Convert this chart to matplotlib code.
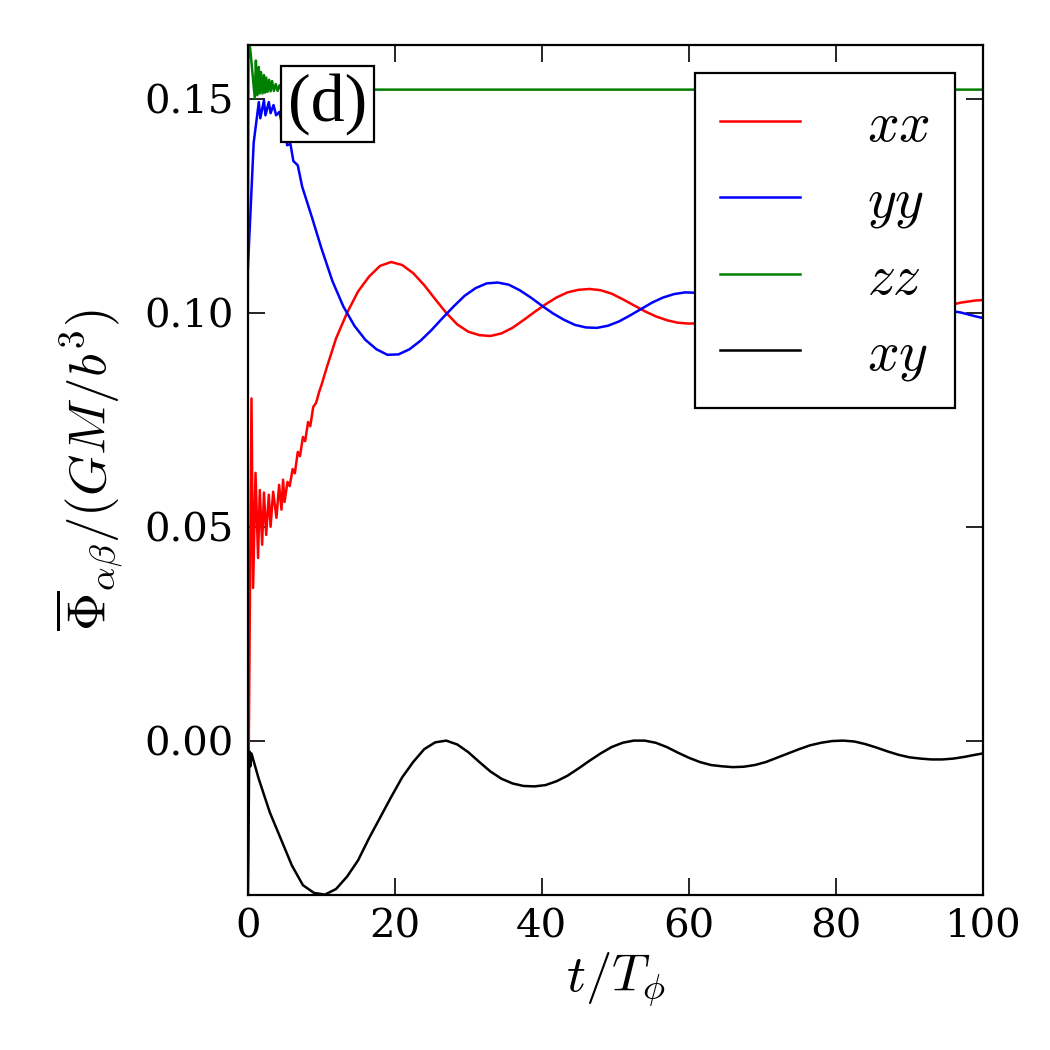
import matplotlib
matplotlib.use('Agg')
import matplotlib.pyplot as plt
import numpy as np

plt.rc('font', family='serif')
plt.rcParams['font.serif'] = ['DejaVu Serif']
plt.rcParams['mathtext.fontset'] = 'cm'

# values (t in units of T_phi)
t_xx = [0.0, 0.5, 0.72, 1.05, 1.4, 1.63, 1.95, 2.2, 2.5, 2.86, 3.1, 3.45, 3.9, 4.26, 4.58,
        4.8, 5.0, 5.4, 5.7, 6.1, 6.4, 6.8, 7.1, 7.5, 7.8, 8.2, 8.5, 8.9, 9.3, 9.7, 10.0,
        10.7, 12, 13.5, 15, 16.5, 18, 19.5, 21, 22.5, 24, 25.5, 27, 28.5, 30, 31.5, 33, 34.5,
        36, 37.5, 39, 40.5, 42, 43.5, 45, 46.5, 48, 49.5, 51, 52.5, 54, 55.5, 57, 58.5, 60,
        61.5, 63, 65, 67, 69, 71, 73, 75, 77, 79, 81, 83, 85, 87, 89, 91, 93, 95, 97, 99, 100]
xx = [-0.031, 0.080, 0.0357, 0.0626, 0.0427, 0.0586, 0.0458, 0.058, 0.0481, 0.0575, 0.050,
      0.0582, 0.0521, 0.0598, 0.054, 0.061, 0.0558, 0.0605, 0.0595, 0.0635, 0.0625, 0.0675,
      0.0665, 0.0710, 0.0700, 0.0745, 0.0735, 0.0780, 0.0790, 0.0815, 0.0830, 0.0870, 0.094,
      0.1000, 0.1050, 0.1085, 0.1110, 0.1119, 0.1112, 0.1093, 0.1065, 0.1032, 0.1000, 0.0973,
      0.0956, 0.0948, 0.0946, 0.0952, 0.0965, 0.0983, 0.1002, 0.1020, 0.1036, 0.1048, 0.1054,
      0.1056, 0.1053, 0.1045, 0.1032, 0.1018, 0.1004, 0.0992, 0.0983, 0.0977, 0.0975, 0.0976,
      0.0980, 0.0988, 0.0998, 0.1008, 0.1017, 0.1023, 0.1026, 0.1025, 0.1019, 0.1010, 0.1001,
      0.0993, 0.0990, 0.0992, 0.0998, 0.1007, 0.1016, 0.1024, 0.1029, 0.1030]

t_yy = [0.0, 0.8, 1.5, 1.7, 2.2, 2.4, 2.86, 3.1, 3.5, 3.85, 4.3, 4.6, 5.0, 5.35, 5.8, 6.2,
        6.8, 7.4, 8.7, 10, 11.5, 13, 14.5, 16, 17.5, 19, 20.5, 22, 23.5, 25, 26.5, 28, 29.5,
        31, 32.5, 34, 35.5, 37, 38.5, 40, 41.5, 43, 44.5, 46, 47.5, 49, 50.5, 52, 53.5, 55,
        56.5, 58, 59.5, 61, 63, 65, 67, 69, 71, 73, 75, 77, 79, 81, 83, 85, 87, 89, 91, 93,
        95, 97, 99, 100]
yy = [0.110, 0.1398, 0.1493, 0.1455, 0.1497, 0.1462, 0.1493, 0.1467, 0.1486, 0.1462, 0.1470,
      0.1445, 0.1440, 0.1392, 0.1395, 0.1355, 0.1345, 0.1295, 0.1225, 0.1152, 0.1075, 0.1015,
      0.0970, 0.0937, 0.0915, 0.0902, 0.0903, 0.0915, 0.0935, 0.0960, 0.0988, 0.1015, 0.1040,
      0.1058, 0.1069, 0.1071, 0.1066, 0.1053, 0.1036, 0.1017, 0.0999, 0.0984, 0.0972, 0.0966,
      0.0965, 0.0970, 0.0980, 0.0994, 0.1009, 0.1024, 0.1036, 0.1044, 0.1048, 0.1047, 0.1040,
      0.1030, 0.1018, 0.1006, 0.0995, 0.0988, 0.0985, 0.0987, 0.0993, 0.1002, 0.1010, 0.1017,
      0.1020, 0.1019, 0.1015, 0.1010, 0.1006, 0.1001, 0.0992, 0.0988]

t_zz = [0.0, 0.1, 0.37, 0.95, 1.1, 1.3, 1.5, 1.6, 1.8, 2.0, 2.2, 2.35, 2.5, 2.7, 2.9, 3.1,
        3.3, 3.55, 3.8, 4.05, 4.3, 4.6, 5.0, 6.0, 8.0, 100]
zz = [0.100, 0.165, 0.161, 0.1502, 0.159, 0.1509, 0.1575, 0.1513, 0.1563, 0.1513, 0.1556,
      0.1515, 0.155, 0.1517, 0.1545, 0.1518, 0.1542, 0.1519, 0.1535, 0.1519, 0.1532, 0.1520,
      0.1527, 0.1524, 0.1522, 0.1522]

t_xy = [0.0, 0.2, 0.35, 0.5, 1.5, 3, 4.5, 6, 7.5, 9, 10.5, 12, 13.5, 15, 16.5, 18, 19.5, 21,
        22.5, 24, 25.5, 27, 28.5, 30, 31.5, 33, 34.5, 36, 37.5, 39, 40.5, 42, 43.5, 45, 46.5,
        48, 49.5, 51, 52.5, 54, 55.5, 57, 58.5, 60, 61.5, 63, 64.5, 66, 67.5, 69, 70.5, 72,
        73.5, 75, 76.5, 78, 79.5, 81, 82.5, 84, 85.5, 87, 88.5, 90, 91.5, 93, 94.5, 96, 97.5,
        99, 100]
xy = [-0.040, -0.0025, -0.006, -0.003, -0.0090, -0.0168, -0.0230, -0.0292, -0.0338, -0.0356,
      -0.0360, -0.0347, -0.0318, -0.0280, -0.0228, -0.0180, -0.0132, -0.0086, -0.0050,
      -0.0020, -0.0004, 0.0, -0.0009, -0.0027, -0.0050, -0.0072, -0.0089, -0.0100, -0.0106,
      -0.0107, -0.0104, -0.0095, -0.0082, -0.0065, -0.0047, -0.0030, -0.0015, -0.0005, 0.0,
      0.0, -0.0005, -0.0015, -0.0028, -0.0040, -0.0050, -0.0057, -0.0060, -0.0062, -0.0061,
      -0.0057, -0.0050, -0.0040, -0.0030, -0.0020, -0.0011, -0.0005, -0.0001, 0.0, -0.0002,
      -0.0008, -0.0016, -0.0025, -0.0033, -0.0039, -0.0042, -0.0044, -0.0044, -0.0042,
      -0.0038, -0.0033, -0.0030]

fig = plt.figure(figsize=(10.5, 10.5), dpi=100)
ax = fig.add_axes([0.236, 0.148, 0.700, 0.809])

ax.plot(t_xx, xx, color='red', lw=1.8, label=r'$xx$')
ax.plot(t_yy, yy, color='blue', lw=1.8, label=r'$yy$')
ax.plot(t_zz, zz, color='green', lw=1.8, label=r'$zz$')
ax.plot(t_xy, xy, color='black', lw=1.8, label=r'$xy$')

ax.set_xlim(0, 100)
ax.set_ylim(-0.036, 0.1626)
ax.set_xticks(np.arange(0, 101, 20))
ax.set_yticks([0.0, 0.05, 0.10, 0.15])
ax.set_yticklabels(['0.00', '0.05', '0.10', '0.15'])
ax.tick_params(direction='in', top=True, right=True, length=12, width=1.2,
               labelsize=29, pad=10)
for s in ax.spines.values():
    s.set_linewidth(1.6)

ax.set_xlabel(r'$t/T_\phi$', fontsize=38)
ax.set_ylabel(r'$\overline{\Phi}_{\alpha\beta}/(GM/b^3)$', fontsize=38, labelpad=14)

leg = ax.legend(loc='upper right', fontsize=40, handlelength=1.45, handletextpad=1.2,
                labelspacing=0.38, borderpad=0.45, borderaxespad=0.5, fancybox=False,
                framealpha=1)
leg.get_frame().set_edgecolor('black')
leg.get_frame().set_linewidth(1.6)

ax.text(0.055, 0.967, '(d)', transform=ax.transAxes, fontsize=49, va='top', ha='left',
        family='Liberation Serif',
        bbox=dict(facecolor='white', edgecolor='black', linewidth=1.6, pad=5))

fig.savefig('out.png', dpi=100)
